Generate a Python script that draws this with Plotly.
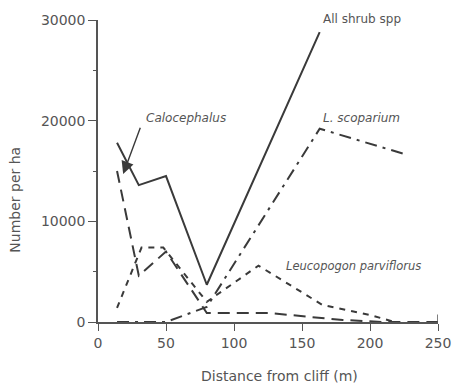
import plotly.graph_objects as go

# Distance from cliff (m) and density (number per ha)
all_x = [14, 30, 50, 80, 163]
all_y = [17800, 13600, 14500, 3700, 28800]

calo_x = [14, 30, 50, 80, 125, 180, 210, 250]
calo_y = [15000, 4600, 7000, 900, 900, 200, 0, 0]

lsco_x = [14, 50, 80, 163, 225]
lsco_y = [0, 0, 1500, 19200, 16700]

leuc_x = [14, 32, 48, 80, 118, 165, 200, 218]
leuc_y = [1400, 7400, 7400, 2000, 5600, 1700, 700, 0]

x_ticks = [0, 50, 100, 150, 200, 250]
y_ticks = [0, 10000, 20000, 30000]
y_labels = ["0", "10000", "20000", "30000"]

LC = "#3a3a3a"
TC = "#555555"
FONT = "DejaVu Sans"

fig = go.Figure()
fig.add_trace(go.Scatter(x=all_x, y=all_y, mode="lines", name="All shrub spp",
                         line=dict(color=LC, width=2)))
fig.add_trace(go.Scatter(x=calo_x, y=calo_y, mode="lines", name="Calocephalus",
                         line=dict(color=LC, width=2, dash="12px,7px")))
fig.add_trace(go.Scatter(x=lsco_x, y=lsco_y, mode="lines", name="L. scoparium",
                         line=dict(color=LC, width=2, dash="12px,6px,3px,6px")))
fig.add_trace(go.Scatter(x=leuc_x, y=leuc_y, mode="lines", name="Leucopogon parviflorus",
                         line=dict(color=LC, width=2, dash="6px,6px")))

ann = [
    dict(x=164, y=1.004, xref="x", yref="paper", text="All shrub spp",
         xanchor="left", yanchor="middle",
         showarrow=False, font=dict(size=12, color=TC, family=FONT)),
    dict(x=164, y=20250, text="<i>L. scoparium</i>", xanchor="left", yanchor="middle",
         showarrow=False, font=dict(size=12, color=TC, family=FONT)),
    dict(x=34, y=20250, text="<i>Calocephalus</i>", xanchor="left", yanchor="middle",
         showarrow=False, font=dict(size=12, color=TC, family=FONT)),
    dict(x=137, y=5600, text="<i>Leucopogon parviflorus</i>", xanchor="left", yanchor="middle",
         showarrow=False, font=dict(size=11.5, color=TC, family=FONT)),
    dict(x=18.5, y=14700, ax=31.5, ay=19450, axref="x", ayref="y", xref="x", yref="y",
         text="", showarrow=True, arrowhead=2, arrowsize=1.8, arrowwidth=1.4, arrowcolor=LC),
    dict(x=0.534, y=-0.18, xref="paper", yref="paper", text="Distance from cliff (m)",
         showarrow=False, xanchor="center", yanchor="middle",
         font=dict(size=14, color=TC, family=FONT)),
    dict(x=-0.245, y=0.404, xref="paper", yref="paper", text="Number per ha",
         showarrow=False, textangle=-90, xanchor="center", yanchor="middle",
         font=dict(size=14, color=TC, family=FONT)),
]

fig.update_layout(
    width=463, height=388, autosize=False,
    margin=dict(l=98, r=16, t=15, b=66),
    paper_bgcolor="white", plot_bgcolor="white",
    showlegend=False,
    annotations=ann,
    font=dict(family=FONT, color=TC, size=14),
    xaxis=dict(range=[0, 250], tickvals=x_ticks, ticks="outside", ticklen=7,
               tickcolor=TC, showline=True, linecolor=TC, linewidth=1.5,
               showgrid=False, zeroline=False, tickfont=dict(size=14, color=TC)),
    yaxis=dict(range=[0, 30000], tickvals=y_ticks, ticktext=y_labels, ticks="outside", ticklen=8,
               tickcolor=TC, showline=True, linecolor=TC, linewidth=1.5,
               showgrid=False, zeroline=False, tickfont=dict(size=14, color=TC),
               minor=dict(dtick=5000, ticks="outside", ticklen=3, tickcolor=TC)),
    shapes=[dict(type="line", xref="x", yref="paper", x0=250, x1=250, y0=0, y1=0.025,
                 line=dict(color=TC, width=1.5))],
)

fig.write_html("out.html")
